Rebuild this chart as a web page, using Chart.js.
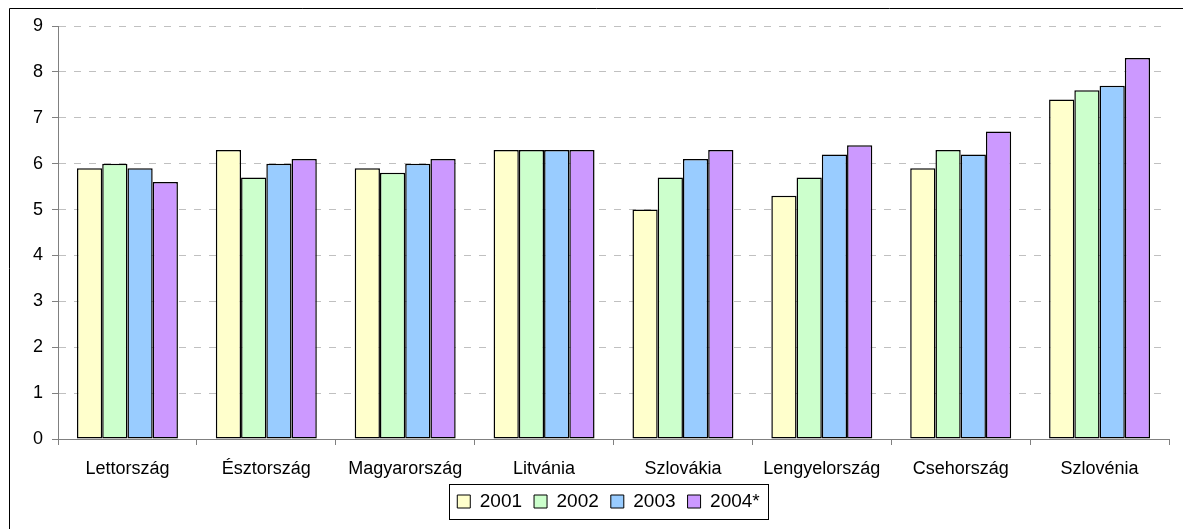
<!DOCTYPE html>
<html>
<head>
<meta charset="utf-8">
<script src="https://cdn.jsdelivr.net/npm/chart.js@4/dist/chart.umd.min.js"></script>
<style>
  html, body { margin: 0; padding: 0; background: #fff; }
  #wrap { width: 1183px; height: 529px; position: relative; }
</style>
</head>
<body>
<div id="wrap"><canvas id="chart"></canvas></div>
<script>
const countries = ['Lettország', 'Észtország', 'Magyarország', 'Litvánia', 'Szlovákia', 'Lengyelország', 'Csehország', 'Szlovénia'];
const y2001 = [5.9, 6.3, 5.9, 6.3, 5.0, 5.3, 5.9, 7.4];
const y2002 = [6.0, 5.7, 5.8, 6.3, 5.7, 5.7, 6.3, 7.6];
const y2003 = [5.9, 6.0, 6.0, 6.3, 6.1, 6.2, 6.2, 7.7];
const y2004 = [5.6, 6.1, 6.1, 6.3, 6.3, 6.4, 6.7, 8.3];
const seriesNames = ['2001', '2002', '2003', '2004*'];
const yTicks = [0, 1, 2, 3, 4, 5, 6, 7, 8, 9];

const font = "'Liberation Sans', Arial, sans-serif";

function bars(label, data, color) {
    return {
        label: label,
        data: data,
        backgroundColor: color,
        borderColor: '#000000',
        borderWidth: 1.5,
        borderSkipped: false,
        categoryPercentage: 0.727,
        barPercentage: 1.0,
    };
}

// frame around the whole picture and a box round the legend
const framePlugin = {
    id: 'frames',
    afterLayout(chart) {
        // legend sits a bit right of the middle in the original
        const lg = chart.legend;
        lg.left += 24;
        lg.right += 24;
    },
    afterDraw(chart) {
        const ctx = chart.ctx;
        ctx.save();
        ctx.strokeStyle = '#000';
        ctx.lineWidth = 1;
        ctx.beginPath();
        ctx.moveTo(9.5, 529);
        ctx.lineTo(9.5, 8.5);
        ctx.lineTo(1183, 8.5);
        ctx.stroke();

        const boxes = chart.legend.legendHitBoxes;
        if (boxes && boxes.length) {
            const first = boxes[0];
            const last = boxes[boxes.length - 1];
            const l = Math.round(first.left - 8) + 0.5;
            const r = Math.round(last.left + last.width + 8) + 0.5;
            const cy = first.top + first.height / 2;
            ctx.strokeRect(l, Math.round(cy - 18) + 0.5, r - l, 35);
        }
        ctx.restore();
    }
};

const ctx = document.getElementById('chart').getContext('2d');
const chart = new Chart(ctx, {
    type: 'bar',
    data: {
        labels: countries,
        datasets: [
            bars(seriesNames[0], y2001, '#FFFFCC'),
            bars(seriesNames[1], y2002, '#CCFFCC'),
            bars(seriesNames[2], y2003, '#99CCFF'),
            bars(seriesNames[3], y2004, '#CC99FF'),
        ]
    },
    options: {
        responsive: true,
        maintainAspectRatio: false,
        animation: false,
        layout: {
            padding: { left: 0, right: 14, top: 26, bottom: 8 }
        },
        plugins: {
            legend: {
                position: 'bottom',
                labels: {
                    boxWidth: 13,
                    boxHeight: 13,
                    padding: 12,
                    color: '#000',
                    font: { family: font, size: 19 },
                    generateLabels(chart) {
                        return chart.data.datasets.map((ds, i) => ({
                            text: ds.label,
                            fillStyle: ds.backgroundColor,
                            strokeStyle: '#000',
                            lineWidth: 1,
                            datasetIndex: i,
                        }));
                    }
                }
            },
            tooltip: { enabled: false }
        },
        scales: {
            x: {
                grid: {
                    offset: true,
                    drawOnChartArea: false,
                    drawTicks: true,
                    tickLength: 6,
                    color: '#808080',
                },
                border: { color: '#808080', width: 1 },
                ticks: {
                    color: '#000',
                    padding: 13,
                    maxRotation: 0,
                    autoSkip: false,
                    font: { family: font, size: 18 },
                },
                afterFit(scale) { scale.height = 41; }
            },
            y: {
                min: 0,
                max: 9,
                afterBuildTicks(scale) {
                    scale.ticks = yTicks.map(v => ({ value: v }));
                },
                grid: {
                    color: '#C0C0C0',
                    tickLength: 6,
                    tickColor: '#808080',
                    tickBorderDash: [],
                },
                border: { color: '#808080', width: 1, dash: [7, 8] },
                ticks: {
                    color: '#000',
                    padding: 9,
                    font: { family: font, size: 18 },
                },
                afterFit(scale) { scale.width = 58; }
            }
        }
    },
    plugins: [framePlugin]
});
</script>
</body>
</html>
